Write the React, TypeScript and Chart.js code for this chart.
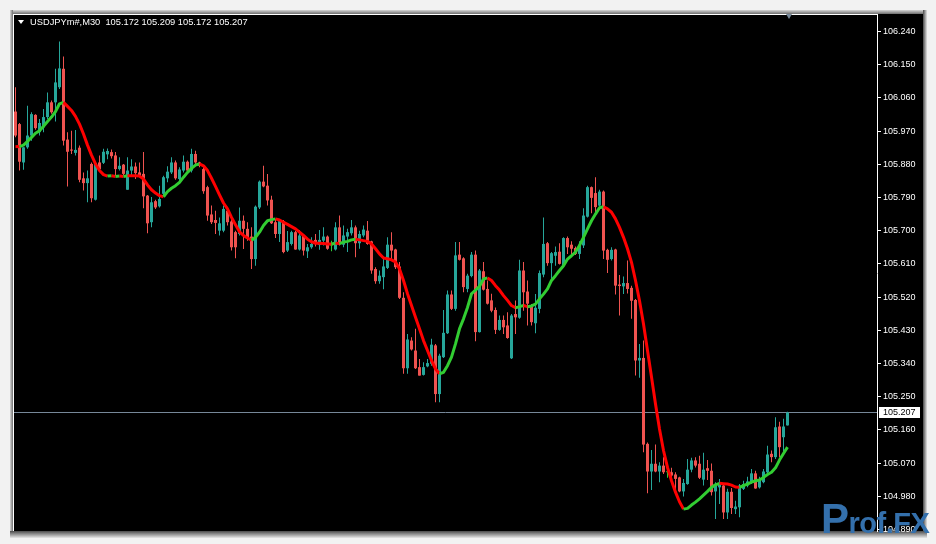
import React, { useEffect, useRef } from 'react';
import { Chart, registerables } from 'chart.js';

Chart.register(...registerables);

const SYMBOL = 'USDJPYm#,M30';

const OPEN = [
  106.023,105.989,105.885,105.926,105.958,106.014,105.967,105.980,106.008,106.048,
  106.048,106.089,106.139,105.947,105.920,105.911,105.925,105.842,105.829,105.881,
  105.784,105.885,105.884,105.907,105.913,105.904,105.867,105.879,105.811,105.863,
  105.874,105.858,105.854,105.795,105.723,105.780,105.766,105.800,105.842,105.858,
  105.885,105.840,105.863,105.887,105.863,105.908,105.885,105.867,105.818,105.744,
  105.729,105.700,105.700,105.754,105.725,105.696,105.691,105.727,105.705,105.684,
  105.623,105.763,105.833,105.822,105.784,105.723,105.691,105.726,105.646,105.664,
  105.696,105.649,105.687,105.644,105.655,105.675,105.661,105.673,105.684,105.660,
  105.649,105.709,105.662,105.684,105.693,105.709,105.666,105.687,105.700,105.671,
  105.596,105.563,105.574,105.599,105.662,105.649,105.603,105.518,105.327,105.402,
  105.375,105.330,105.309,105.332,105.339,105.389,105.257,105.357,105.422,105.527,
  105.488,105.635,105.625,105.542,105.577,105.635,105.425,105.590,105.542,105.511,
  105.485,105.431,105.458,105.443,105.354,105.474,105.464,105.592,105.535,105.494,
  105.449,105.488,105.581,105.666,105.612,105.632,105.643,105.605,105.680,105.662,
  105.653,105.637,105.660,105.738,105.818,105.802,105.768,105.806,105.648,105.623,
  105.649,105.554,105.549,105.558,105.545,105.512,105.348,105.355,105.122,105.047,
  105.068,105.047,105.063,105.045,105.045,105.039,105.031,104.993,105.013,105.052,
  105.077,105.068,105.025,105.056,105.049,104.993,105.004,105.009,104.936,104.992,
  104.945,104.950,105.000,105.009,105.016,105.042,105.004,105.018,105.045,105.095,
  105.086,105.169,105.140,105.172,
];

const HIGH = [
  106.089,105.992,105.926,106.039,106.021,106.016,106.003,106.030,106.075,106.053,
  106.139,106.213,106.172,105.967,105.971,105.973,105.931,105.858,105.863,105.885,
  105.885,105.904,105.922,105.923,105.920,105.913,105.899,105.881,105.899,105.894,
  105.885,105.885,105.913,105.797,105.791,105.784,105.822,105.849,105.875,105.899,
  105.890,105.872,105.904,105.890,105.922,105.917,105.887,105.872,105.822,105.768,
  105.754,105.736,105.768,105.763,105.732,105.700,105.763,105.741,105.723,105.709,
  105.768,105.836,105.876,105.854,105.795,105.732,105.732,105.729,105.699,105.700,
  105.699,105.702,105.691,105.664,105.682,105.691,105.702,105.709,105.687,105.673,
  105.723,105.741,105.714,105.705,105.729,105.714,105.700,105.714,105.726,105.673,
  105.601,105.592,105.628,105.682,105.696,105.651,105.615,105.533,105.420,105.411,
  105.434,105.352,105.343,105.352,105.407,105.393,105.366,105.485,105.538,105.538,
  105.669,105.669,105.628,105.583,105.642,105.646,105.596,105.615,105.565,105.529,
  105.492,105.470,105.470,105.479,105.474,105.511,105.621,105.615,105.565,105.501,
  105.528,105.592,105.736,105.669,105.642,105.657,105.666,105.682,105.684,105.671,
  105.657,105.671,105.761,105.822,105.820,105.845,105.811,105.809,105.651,105.655,
  105.651,105.580,105.576,105.619,105.551,105.515,105.393,105.402,105.126,105.105,
  105.120,105.072,105.086,105.054,105.057,105.045,105.033,105.027,105.081,105.084,
  105.086,105.090,105.098,105.078,105.069,105.018,105.027,105.011,105.000,105.002,
  104.968,105.013,105.022,105.033,105.054,105.049,105.033,105.054,105.117,105.104,
  105.194,105.182,105.190,105.209,
];

const LOW = [
  105.953,105.863,105.865,105.922,105.944,105.974,105.958,105.967,106.003,106.017,
  105.996,106.084,105.931,105.820,105.908,105.904,105.831,105.809,105.777,105.777,
  105.782,105.863,105.881,105.894,105.896,105.849,105.863,105.851,105.811,105.849,
  105.840,105.845,105.761,105.693,105.709,105.759,105.763,105.795,105.831,105.854,
  105.838,105.831,105.858,105.858,105.858,105.881,105.872,105.800,105.727,105.718,
  105.691,105.687,105.696,105.714,105.646,105.625,105.687,105.650,105.673,105.596,
  105.605,105.759,105.818,105.768,105.718,105.680,105.669,105.639,105.642,105.660,
  105.648,105.646,105.633,105.626,105.651,105.657,105.648,105.660,105.648,105.644,
  105.646,105.660,105.655,105.642,105.687,105.628,105.651,105.682,105.662,105.583,
  105.556,105.556,105.541,105.596,105.619,105.596,105.515,105.312,105.312,105.375,
  105.325,105.307,105.307,105.330,105.334,105.235,105.235,105.355,105.420,105.485,
  105.483,105.619,105.533,105.533,105.574,105.400,105.424,105.538,105.500,105.479,
  105.420,105.429,105.420,105.407,105.352,105.420,105.461,105.483,105.443,105.443,
  105.422,105.476,105.574,105.605,105.565,105.605,105.608,105.603,105.637,105.637,
  105.634,105.623,105.653,105.736,105.747,105.745,105.765,105.623,105.585,105.619,
  105.527,105.470,105.528,105.530,105.461,105.307,105.301,105.099,104.988,104.997,
  105.045,105.018,105.040,105.030,105.020,104.995,104.991,104.979,105.011,105.045,
  105.058,105.027,105.009,105.024,104.982,104.918,104.959,104.918,104.918,104.932,
  104.932,104.923,104.997,105.004,105.013,105.000,105.001,105.015,105.042,105.072,
  105.081,105.086,105.095,105.172,
];

const CLOSE = [
  105.958,105.887,105.926,105.958,106.016,105.978,105.992,106.008,106.048,106.021,
  106.102,106.140,105.944,105.914,105.917,105.919,105.838,105.829,105.842,105.788,
  105.883,105.867,105.914,105.916,105.902,105.867,105.876,105.854,105.863,105.874,
  105.856,105.849,105.793,105.720,105.777,105.763,105.786,105.845,105.860,105.885,
  105.842,105.866,105.887,105.863,105.908,105.885,105.876,105.807,105.741,105.723,
  105.721,105.720,105.759,105.723,105.655,105.655,105.727,105.705,105.678,105.623,
  105.765,105.833,105.820,105.782,105.720,105.691,105.726,105.642,105.669,105.696,
  105.649,105.687,105.646,105.655,105.664,105.664,105.675,105.684,105.651,105.660,
  105.709,105.664,105.687,105.696,105.709,105.666,105.691,105.703,105.664,105.592,
  105.563,105.578,105.603,105.662,105.646,105.601,105.518,105.327,105.405,105.378,
  105.327,105.307,105.330,105.341,105.391,105.257,105.361,105.423,105.527,105.488,
  105.633,105.621,105.547,105.578,105.635,105.425,105.592,105.540,105.502,105.483,
  105.431,105.458,105.438,105.409,105.470,105.465,105.592,105.533,105.502,105.452,
  105.491,105.585,105.664,105.612,105.639,105.642,105.610,105.680,105.655,105.651,
  105.637,105.662,105.741,105.818,105.789,105.764,105.806,105.646,105.621,105.648,
  105.551,105.550,105.558,105.542,105.510,105.348,105.355,105.120,105.047,105.068,
  105.047,105.063,105.045,105.045,105.036,105.027,104.993,105.016,105.052,105.077,
  105.063,105.030,105.052,105.049,104.991,105.011,105.016,104.936,104.992,104.948,
  104.952,105.009,105.013,105.020,105.042,105.001,105.025,105.047,105.093,105.086,
  105.167,105.113,105.169,105.207,
];

const MA = [
  105.928,105.928,105.932,105.942,105.953,105.964,105.971,105.983,105.996,106.008,
  106.023,106.044,106.048,106.037,106.026,106.010,105.989,105.962,105.932,105.905,
  105.881,105.863,105.852,105.848,105.849,105.847,105.848,105.847,105.849,105.849,
  105.849,105.848,105.840,105.824,105.811,105.802,105.795,105.792,105.806,105.815,
  105.822,105.831,105.845,105.858,105.869,105.878,105.881,105.876,105.863,105.842,
  105.820,105.797,105.775,105.759,105.736,105.716,105.697,105.687,105.680,105.674,
  105.682,105.696,105.714,105.727,105.730,105.732,105.729,105.723,105.717,105.711,
  105.705,105.696,105.687,105.677,105.670,105.666,105.666,105.665,105.664,105.664,
  105.666,105.665,105.669,105.671,105.675,105.677,105.675,105.673,105.671,105.664,
  105.651,105.637,105.626,105.624,105.621,105.615,105.596,105.565,105.529,105.497,
  105.465,105.434,105.402,105.375,105.348,105.325,105.312,105.316,105.334,105.357,
  105.393,105.434,105.461,105.492,105.529,105.539,105.549,105.569,105.572,105.565,
  105.551,105.539,105.524,105.511,105.497,105.491,105.494,105.497,105.494,105.496,
  105.501,105.515,105.528,105.542,105.565,105.578,105.592,105.605,105.623,105.632,
  105.642,105.660,105.682,105.705,105.727,105.745,105.762,105.765,105.759,105.750,
  105.732,105.709,105.682,105.651,105.614,105.565,105.510,105.447,105.375,105.303,
  105.230,105.162,105.104,105.058,105.022,104.991,104.965,104.945,104.947,104.956,
  104.964,104.973,104.983,104.993,105.004,105.011,105.015,105.014,105.013,105.010,
  105.005,105.004,105.009,105.013,105.018,105.022,105.024,105.031,105.039,105.045,
  105.057,105.078,105.096,105.113,
];

const Y_TICKS = [
  106.240, 106.150, 106.060, 105.970, 105.880, 105.790, 105.700, 105.610,
  105.520, 105.430, 105.340, 105.250, 105.160, 105.070, 104.980, 104.890,
];

const Y_MIN = 104.8857;
const Y_MAX = 106.2848;
const X_MIN = -0.375;
const X_MAX = 215.375;

const BULL = '#26a69a';
const BEAR = '#ef5350';
const DOJI = '#33cc33';
const MA_UP = '#32cd32';
const MA_DOWN = '#ff0000';
const BID_LINE = '#778899';
const FONT = '"Liberation Sans", Arial, sans-serif';

const LAST_I = CLOSE.length - 1;
const LAST = CLOSE[LAST_I];

const lastPriceTag = {
  id: 'lastPriceTag',
  afterDraw(chart: any) {
    const { ctx, scales } = chart;
    const y = scales.y.getPixelForValue(LAST);
    const ty = Math.floor(y);
    ctx.save();
    ctx.fillStyle = '#ffffff';
    ctx.fillRect(879, ty - 5, 41, 11);
    ctx.fillStyle = '#000000';
    ctx.font = `9px ${FONT}`;
    ctx.textBaseline = 'middle';
    ctx.textAlign = 'left';
    ctx.fillText(LAST.toFixed(3), 883, ty + 1);
    ctx.restore();
  },
};

export default function App() {
  const ref = useRef<HTMLCanvasElement>(null);

  useEffect(() => {
    if (!ref.current) return;
    const idx = OPEN.map((_, i) => i);
    const colors = idx.map((i) =>
      CLOSE[i] > OPEN[i] ? BULL : CLOSE[i] < OPEN[i] ? BEAR : DOJI
    );
    const chart = new Chart(ref.current, {
      type: 'bar',
      data: {
        datasets: [
          {
            type: 'line',
            label: 'bid',
            data: [
              { x: X_MIN, y: LAST },
              { x: X_MAX, y: LAST },
            ],
            borderColor: BID_LINE,
            borderWidth: 1,
            pointRadius: 0,
            order: 3,
          } as any,
          {
            type: 'bar',
            label: 'wick',
            data: idx.map((i) => ({ x: i, y: [LOW[i], HIGH[i]] })),
            backgroundColor: colors,
            borderWidth: 0,
            barThickness: 1,
            grouped: false,
            inflateAmount: 0,
            order: 2,
          } as any,
          {
            type: 'bar',
            label: 'body',
            data: idx.map((i) => ({
              x: i,
              y: [Math.min(OPEN[i], CLOSE[i]), Math.max(OPEN[i], CLOSE[i])],
            })),
            backgroundColor: colors,
            borderWidth: 0,
            barThickness: 3,
            minBarLength: 1,
            grouped: false,
            inflateAmount: 0,
            order: 1,
          } as any,
          {
            type: 'line',
            label: 'MA',
            data: MA.map((v, i) => ({ x: i, y: v })),
            borderColor: MA_DOWN,
            borderWidth: 3,
            pointRadius: 0,
            tension: 0,
            borderJoinStyle: 'round',
            segment: {
              borderColor: (c: any) =>
                c.p1.parsed.y > c.p0.parsed.y ? MA_UP : MA_DOWN,
            },
            order: 0,
          } as any,
        ],
      },
      options: {
        animation: false,
        responsive: false,
        devicePixelRatio: 1,
        events: [],
        layout: { padding: { left: 14, top: 15, right: 13, bottom: 13 } },
        plugins: {
          legend: { display: false },
          tooltip: { enabled: false },
          title: { display: false },
        },
        scales: {
          x: {
            type: 'linear',
            min: X_MIN,
            max: X_MAX,
            display: false,
            offset: false,
          },
          y: {
            type: 'linear',
            position: 'right',
            min: Y_MIN,
            max: Y_MAX,
            afterFit: (s: any) => {
              s.width = 46;
            },
            afterBuildTicks: (s: any) => {
              s.ticks = Y_TICKS.map((v) => ({ value: v }));
            },
            grid: {
              drawOnChartArea: false,
              drawTicks: true,
              tickLength: 4,
              color: '#ffffff',
              lineWidth: 1,
            },
            border: { display: true, color: '#ffffff', width: 1 },
            ticks: {
              color: '#ffffff',
              font: { family: FONT, size: 9 },
              padding: 2,
              autoSkip: false,
              crossAlign: 'near',
              callback: (v: any) => Number(v).toFixed(3),
            },
          },
        },
      } as any,
      plugins: [lastPriceTag],
    });
    return () => chart.destroy();
  }, []);

  const header = `${SYMBOL}  ${OPEN[LAST_I].toFixed(3)} ${HIGH[LAST_I].toFixed(3)} ${LOW[LAST_I].toFixed(3)} ${CLOSE[LAST_I].toFixed(3)}`;

  const abs = (s: React.CSSProperties): React.CSSProperties => ({ position: 'absolute', ...s });

  return (
    <div style={{ position: 'fixed', left: 0, top: 0, width: 936, height: 544, background: '#f2f2f2', overflow: 'hidden' }}>
      <div style={abs({ left: 10, top: 10, width: 917, height: 4, background: 'linear-gradient(to bottom, #d6d6d6, #6e6e6e)' })} />
      <div style={abs({ left: 10, top: 10, width: 3, height: 528, background: 'linear-gradient(to right, #d6d6d6, #6e6e6e)' })} />
      <div style={abs({ left: 923, top: 10, width: 4, height: 528, background: 'linear-gradient(to right, #4a4a4a, #e2e2e2)' })} />
      <div style={abs({ left: 10, top: 531, width: 917, height: 7, background: 'linear-gradient(to bottom, #4a4a4a, #e6e6e6)' })} />
      <div style={abs({ left: 13, top: 14, width: 910, height: 517, background: '#000' })} />
      <div style={abs({ left: 13, top: 14, width: 865, height: 1, background: '#fff' })} />
      <div style={abs({ left: 13, top: 14, width: 1, height: 517, background: '#fff' })} />
      <canvas ref={ref} width={936} height={544} style={abs({ left: 0, top: 0, width: 936, height: 544 })} />
      <div style={abs({ left: 786, top: 14, width: 0, height: 0, borderLeft: '3.5px solid transparent', borderRight: '3.5px solid transparent', borderTop: '5px solid #778899' })} />
      <div style={abs({ left: 18, top: 20, width: 0, height: 0, borderLeft: '3.5px solid transparent', borderRight: '3.5px solid transparent', borderTop: '4px solid #fff' })} />
      <div style={abs({ left: 30, top: 17, color: '#fff', fontFamily: FONT, fontSize: 9.3, lineHeight: '11px', whiteSpace: 'pre' })}>{header}</div>
      <div style={abs({ left: 821, top: 498, color: '#3470ac', fontFamily: FONT, fontWeight: 'bold', lineHeight: 1, whiteSpace: 'pre', display: 'flex', alignItems: 'baseline', letterSpacing: -0.5 })}>
        <span style={{ fontSize: 42 }}>P</span>
        <span style={{ fontSize: 29 }}>rof.FX</span>
      </div>
    </div>
  );
}
